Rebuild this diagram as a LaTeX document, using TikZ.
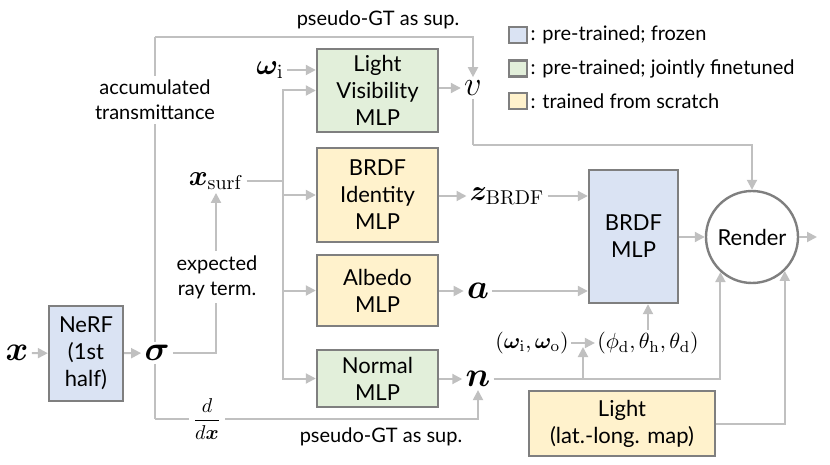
\documentclass[tikz,border=0pt]{standalone}
\usepackage[no-math]{fontspec}
\setmainfont{Lato}
\usepackage{amsmath}
\usepackage{bm}
\usetikzlibrary{arrows.meta,calc}

\definecolor{linegray}{HTML}{C0C0C0}
\definecolor{boxgray}{HTML}{7F7F7F}
\definecolor{frozenblue}{HTML}{DAE3F3}
\definecolor{tunedgreen}{HTML}{E2EFDA}
\definecolor{scratchyellow}{HTML}{FFF2CC}

\tikzset{
  mlp/.style={draw=boxgray,line width=1.2pt,align=center,inner sep=0pt,
    font=\fontsize{11}{13.5}\selectfont},
  frozen/.style={mlp,fill=frozenblue},
  tuned/.style={mlp,fill=tunedgreen},
  scratch/.style={mlp,fill=scratchyellow},
  flow/.style={draw=linegray,line width=1pt},
  feed/.style={flow,-{Triangle[length=5pt,width=5pt]}},
  bigsym/.style={inner sep=1.5pt,font=\fontsize{19}{22}\selectfont},
  midsym/.style={inner sep=1.5pt,font=\Large},
  note/.style={align=center,inner sep=1pt,font=\fontsize{10}{12.5}\selectfont},
  gap/.style={note,fill=white,inner sep=2pt},
  swatch/.style={draw=boxgray,line width=1.2pt,minimum width=9pt,minimum height=8pt,inner sep=0pt}
}

\begin{document}
\begin{tikzpicture}[x=0.5pt,y=-0.5pt]
\useasboundingbox (0,0) rectangle (830,465);
% 图例
\node[swatch,fill=frozenblue] (keyA) at (518,35) {};
\node[swatch,fill=tunedgreen] (keyB) at (518,68.5) {};
\node[swatch,fill=scratchyellow] (keyC) at (518,101) {};
\node[note,anchor=west] (keyAtxt) at (keyA.east) {: pre-trained; frozen};
\node[note,anchor=west] (keyBtxt) at (keyB.east) {: pre-trained; jointly finetuned};
\node[note,anchor=west] (keyCtxt) at (keyC.east) {: trained from scratch};
% 网络模块
\node[frozen,minimum width=37pt,minimum height=47.5pt] (nerf) at (86,353.5) {NeRF\\(1st\\half)};
\node[tuned,minimum width=60.5pt,minimum height=41.5pt] (lv) at (377.5,90.5) {Light\\Visibility\\MLP};
\node[scratch,minimum width=60.5pt,minimum height=47pt] (brdfid) at (377.5,195) {BRDF\\Identity\\MLP};
\node[scratch,minimum width=60.5pt,minimum height=35.5pt] (albedo) at (377.5,290.5) {Albedo\\MLP};
\node[tuned,minimum width=60.5pt,minimum height=28.5pt] (normal) at (377.5,378.5) {Normal\\MLP};
\node[frozen,minimum width=44.5pt,minimum height=66.5pt] (brdf) at (633.5,236.5) {BRDF\\MLP};
\node[scratch,minimum width=93pt,minimum height=32.5pt] (light) at (622,423.5) {Light\\(lat.-long. map)};
\node[mlp,circle,fill=white,minimum size=46pt] (render) at (752,237) {Render};
% 变量符号
\node[bigsym] (xin) at (17,353) {$\boldsymbol{x}$};
\node[bigsym] (sigma) at (157,353) {$\boldsymbol{\sigma}$};
\node[midsym] (omegai) at (270,70) {$\boldsymbol{\omega}_{\mathrm{i}}$};
\node[midsym] (xsurf) at (216,181) {$\boldsymbol{x}_{\mathrm{surf}}$};
\node[bigsym] (vis) at (473,88) {$v$};
\node[midsym] (zbrdf) at (507,196) {$\boldsymbol{z}_{\mathrm{BRDF}}$};
\node[bigsym] (alb) at (478,291) {$\boldsymbol{a}$};
\node[bigsym] (nrm) at (478,379) {$\boldsymbol{n}$};
\node[note,font=\fontsize{11}{13}\selectfont] (wiwo) at (532,343) {$(\boldsymbol{\omega}_{\mathrm{i}},\boldsymbol{\omega}_{\mathrm{o}})$};
\node[note,font=\fontsize{11}{13}\selectfont] (angles) at (648,343) {$(\phi_{\mathrm{d}},\theta_{\mathrm{h}},\theta_{\mathrm{d}})$};
% 折点
\coordinate (bus) at (283,181);
\coordinate (topbend) at (155,37);
\coordinate (botbend) at (155,419);
\coordinate (visbend) at (473,145);
\coordinate (out) at (817,237);
\coordinate (split) at ($(wiwo.east)!0.5!(angles.west)$);
% 连线
\draw[feed] (xin) -- (nerf);
\draw[feed] (nerf) -- (sigma);
\draw[flow] (sigma.north -| topbend) -- (topbend);
\draw[feed] (topbend) -| (vis.north);
\draw[flow] (sigma.south -| botbend) -- (botbend);
\draw[feed] (botbend) -| (nrm.south);
\draw[feed] (sigma.east) -| (xsurf.south);
\draw[flow] (xsurf.east) -- (bus);
\draw[feed] (bus) |- (lv.west);
\draw[feed] (bus) |- (brdfid.west);
\draw[feed] (bus) |- (albedo.west);
\draw[feed] (bus) |- (normal.west);
\draw[feed] (omegai.east) -- (omegai.east -| lv.west);
\draw[feed] (lv.east |- vis) -- (vis.west);
\draw[flow] (vis.south) -- (visbend);
\draw[feed] (visbend) -| (render.north);
\draw[feed] (brdfid.east |- zbrdf) -- (zbrdf.west);
\draw[feed] (zbrdf.east) -- (zbrdf.east -| brdf.west);
\draw[feed] (albedo.east |- alb) -- (alb.west);
\draw[feed] (alb.east) -- (alb.east -| brdf.west);
\draw[feed] (normal.east |- nrm) -- (nrm.west);
\draw[feed] (nrm.east) -| (render.228);
\draw[feed] (wiwo.east) -- (angles.west);
\draw[feed] (nrm.east -| split) -- ([yshift=-2pt]split);
\draw[feed] (angles.north -| angles) -- (angles.north |- brdf.south);
\draw[feed] (brdf.east |- render) -- (render.west);
\draw[feed] (light.east) -| (render.314);
\draw[feed] (render.east) -- (out);
% 标注
\node[gap] (acc) at (155,100) {accumulated\\transmittance};
\node[gap] (ray) at (217,277) {expected\\ray term.};
\node[gap] (ddx) at (207,419) {$\dfrac{d}{d\boldsymbol{x}}$};
\node[note] (supTop) at (378,20) {pseudo-GT as sup.};
\node[note] (supBot) at (381,437) {pseudo-GT as sup.};
\end{tikzpicture}
\end{document}
